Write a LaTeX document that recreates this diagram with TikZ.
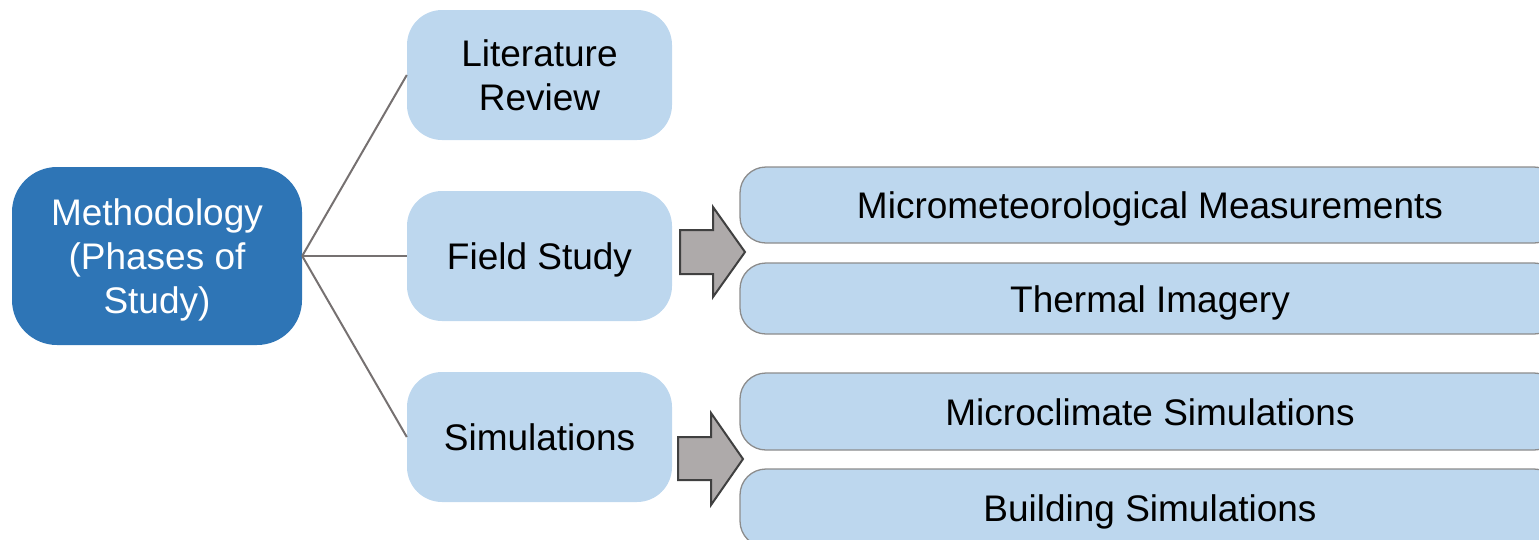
\documentclass[tikz,border=0pt]{standalone}
\usepackage{fontspec}
\setmainfont{Liberation Sans}
\definecolor{darkblue}{HTML}{2E75B6}
\definecolor{lightblue}{HTML}{BDD7EE}
\definecolor{linegray}{HTML}{767171}
\definecolor{boxedge}{HTML}{8C8C8C}
\definecolor{arrowfill}{HTML}{AEAAAA}
\definecolor{arrowedge}{HTML}{404040}
\begin{document}
\begin{tikzpicture}[x=1pt,y=-1pt,
  every node/.style={font=\fontsize{37}{44}\selectfont, align=center, inner sep=0pt},
  oneline/.style={text height=27pt, text depth=-1pt},
  mainbox/.style={rectangle, rounded corners=45pt, fill=darkblue, text=white, minimum width=290pt, minimum height=178pt, text depth=-2pt},
  phasebox/.style={rectangle, rounded corners=35pt, fill=lightblue, text=black, minimum width=265pt, minimum height=130pt},
  subbox/.style={rectangle, rounded corners=26pt, fill=lightblue, draw=boxedge, line width=1.3pt, text=black, minimum width=820pt, oneline},
  link/.style={draw=linegray, line width=2pt},
  blockarrow/.style={fill=arrowfill, draw=arrowedge, line width=2pt, line join=miter}
]
\useasboundingbox (0,0) rectangle (1539,539);
\clip (0,0) rectangle (1539,539);
\node[mainbox] (meth) at (157,256) {Methodology\\(Phases of\\Study)};
\node[phasebox, text depth=-1pt] (lit) at (539.5,75) {Literature\\Review};
\node[phasebox, oneline] (field) at (539.5,256) {Field Study};
\node[phasebox, oneline] (sim) at (539.5,437) {Simulations};
\node[subbox, minimum height=76pt] (mm) at (1150,205) {Micrometeorological Measurements};
\node[subbox, minimum height=71pt] (ti) at (1150,298.5) {Thermal Imagery};
\node[subbox, minimum height=77pt] (mc) at (1150,411.5) {Microclimate Simulations};
\node[subbox, minimum height=78pt] (bs) at (1150,508) {Building Simulations};
\draw[link] (meth.east) -- (lit.west);
\draw[link] (meth.east) -- (field.west);
\draw[link] (meth.east) -- (sim.west);
\draw[blockarrow] (680,230) -- (713,230) -- (713,207) -- (745,252) -- (713,297) -- (713,274) -- (680,274) -- cycle;
\draw[blockarrow] (678,437) -- (711,437) -- (711,413) -- (743,459) -- (711,505) -- (711,480) -- (678,480) -- cycle;
\end{tikzpicture}
\end{document}
